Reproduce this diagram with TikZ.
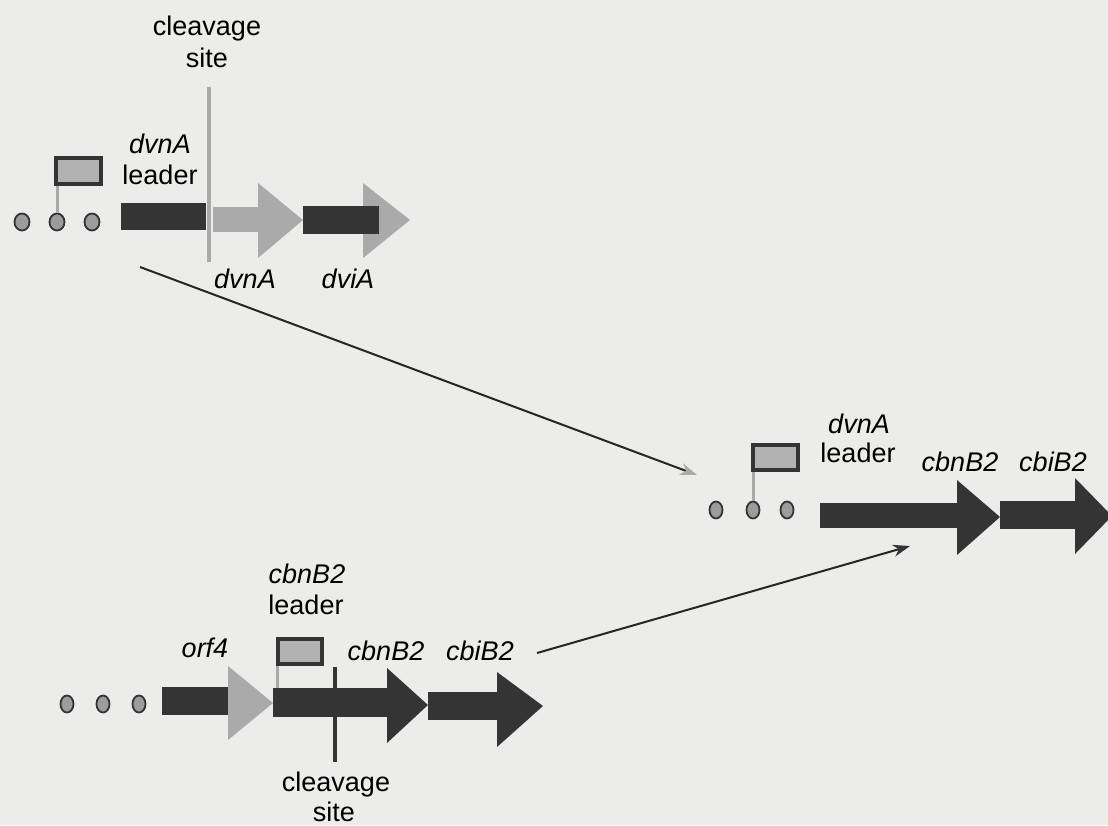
\documentclass[tikz,border=0pt]{standalone}
\usepackage{fontspec}
\setmainfont{Liberation Sans}
\usetikzlibrary{arrows.meta}
\definecolor{bgpaper}{HTML}{ECECEA}
\definecolor{darkgene}{HTML}{343434}
\definecolor{lightgene}{HTML}{AAAAAA}
\definecolor{flagfill}{HTML}{B2B2B2}
\definecolor{dotfill}{HTML}{9C9C9C}
\tikzset{
    gene dark/.style={fill=darkgene},
    gene light/.style={fill=lightgene},
    dot/.style={draw=darkgene, fill=dotfill, line width=1.8pt},
    flag/.style={draw=darkgene, fill=flagfill, line width=3.5pt},
    pole/.style={draw=lightgene, line width=3pt},
    cut light/.style={draw=lightgene, line width=4pt},
    cut dark/.style={draw=darkgene, line width=4pt},
    lbl/.style={font=\fontsize{27}{31}\selectfont, inner sep=0pt, anchor=base},
    gname/.style={lbl, font=\fontsize{27}{31}\selectfont\itshape},
    link/.style={draw=black!85, line width=2pt}
}

\begin{document}
\begin{tikzpicture}[x=1pt, y=-1pt]
    \fill[bgpaper] (0,0) rectangle (1108,825);
    \useasboundingbox (0,0) rectangle (1108,825);

    % top: dvnA / dviA
    \foreach \x in {22,57,92}
        \draw[dot] (\x,222) ellipse [x radius=7.5pt, y radius=8.5pt];
    \draw[pole] (57,184) -- (57,213);
    \draw[flag] (56,158) rectangle (101,184);
    \fill[gene dark] (121,203) rectangle (206,230);
    \fill[gene light] (213,207) rectangle (259,232);
    \fill[gene light] (258,183) -- (303,220) -- (258,258) -- cycle;
    \fill[gene light] (363,183) -- (410,220) -- (363,258) -- cycle;
    \fill[gene dark] (303,206) rectangle (379,234);
    \draw[cut light] (209,87) -- (209,262);

    \node[lbl] (cutA) at (207,35) {cleavage};
    \node[lbl] (siteA) at (207,67) {site};
    \node[gname] (leadA) at (160,153) {dvnA};
    \node[lbl] (leadAb) at (160,184) {leader};
    \node[gname] (dvnAtop) at (245,288) {dvnA};
    \node[gname] (dviAtop) at (348,288) {dviA};

    % middle: dvnA leader / cbnB2 / cbiB2
    \foreach \x in {716,753,787}
        \draw[dot] (\x,510) ellipse [x radius=6.5pt, y radius=8.5pt];
    \draw[pole] (753,470) -- (753,501);
    \draw[flag] (753,445) rectangle (798,470);
    \fill[gene dark] (820,503) rectangle (960,528);
    \fill[gene dark] (957,480) -- (1000,517) -- (957,555) -- cycle;
    \fill[gene dark] (1000,501) rectangle (1076,529);
    \fill[gene dark] (1075,478) -- (1112,516) -- (1075,554) -- cycle;

    \node[gname] (leadB) at (859,433) {dvnA};
    \node[lbl] (leadBb) at (858,462) {leader};
    \node[gname] (cbnBmid) at (960,471) {cbnB2};
    \node[gname] (cbiBmid) at (1053,471) {cbiB2};

    % bottom: orf4 / cbnB2 / cbiB2
    \foreach \x in {67,103,139}
        \draw[dot] (\x,704) ellipse [x radius=6.5pt, y radius=8.5pt];
    \fill[gene dark] (162,687) rectangle (232,715);
    \fill[gene light] (228,666) -- (273,703) -- (228,740) -- cycle;
    \draw[pole] (277,664) -- (277,688);
    \draw[flag] (278,639) rectangle (322,664);
    \fill[gene dark] (273,688) rectangle (388,717);
    \fill[gene dark] (387,668) -- (428,705) -- (387,743) -- cycle;
    \fill[gene dark] (428,692) rectangle (498,720);
    \fill[gene dark] (497,672) -- (543,706) -- (497,747) -- cycle;
    \draw[cut dark] (335,667) -- (335,762);

    \node[gname] (leadC) at (307,583) {cbnB2};
    \node[lbl] (leadCb) at (306,614) {leader};
    \node[gname] (orf) at (205,657) {orf4};
    \node[gname] (cbnBlow) at (386,660) {cbnB2};
    \node[gname] (cbiBlow) at (480,660) {cbiB2};
    \node[lbl] (cutC) at (336,791) {cleavage};
    \node[lbl] (siteC) at (334,821) {site};

    % links
    \coordinate (upfrom) at (140,267);
    \coordinate (upto) at (697,475);
    \coordinate (lowfrom) at (537,653);
    \coordinate (lowto) at (910,546);
    \draw[link, -{Stealth[length=17pt, width=12pt, color=lightgene]}] (upfrom) -- (upto);
    \draw[link, -{Stealth[length=17pt, width=12pt, color=darkgene]}] (lowfrom) -- (lowto);
\end{tikzpicture}
\end{document}
